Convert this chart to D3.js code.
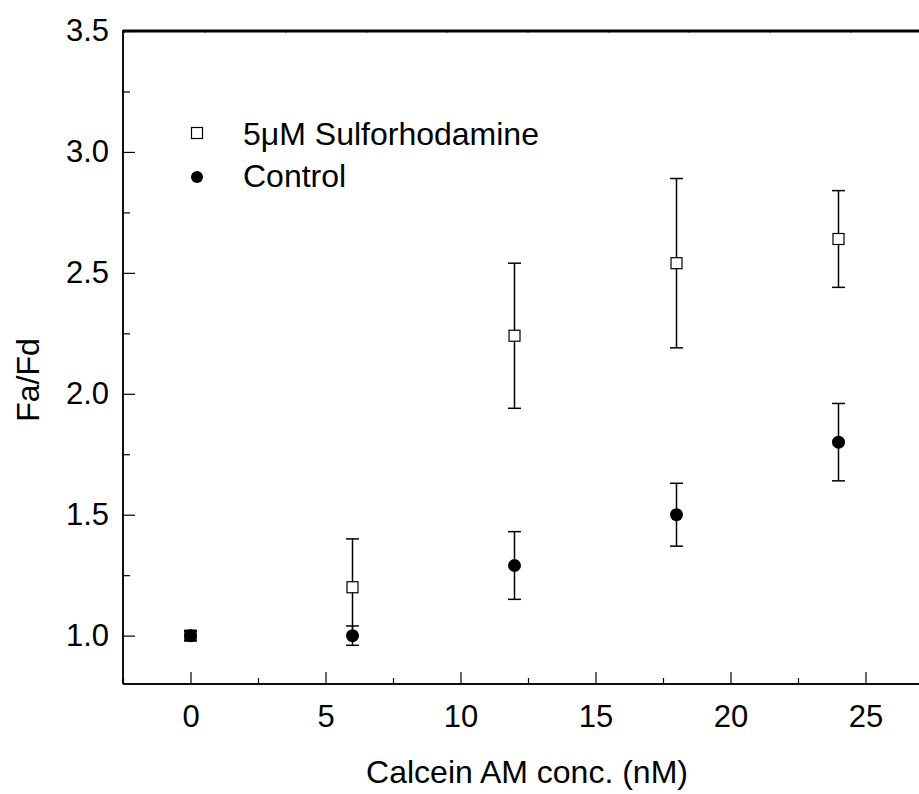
<!DOCTYPE html>
<html>
<head>
<meta charset="utf-8">
<script src="https://cdn.jsdelivr.net/npm/d3@7"></script>
<style>
	body { margin: 0; background: #fff; }
	text { font-family: "Liberation Sans", Arial, sans-serif; fill: #000; }
</style>
</head>
<body>
<script>
// values
var conc = [0, 6, 12, 18, 24];
var sulfoMean = [1.0, 1.2, 2.24, 2.54, 2.64];
var sulfoErr = [0.02, 0.2, 0.3, 0.35, 0.2];
var controlMean = [1.0, 1.0, 1.29, 1.5, 1.8];
var controlErr = [0.02, 0.04, 0.14, 0.13, 0.16];
var xMajor = [0, 5, 10, 15, 20, 25];
var xMinor = [-2.5, 2.5, 7.5, 12.5, 17.5, 22.5];
var yMajor = [1.0, 1.5, 2.0, 2.5, 3.0, 3.5];
var yMinor = [1.25, 1.75, 2.25, 2.75, 3.25];
var legendNames = ['5\u03bcM Sulforhodamine', 'Control'];

var width = 919, height = 794;
var box = {left: 123, right: 933, top: 31, bottom: 684};

var svg = d3.select('body').append('svg')
	.attr('width', width)
	.attr('height', height);

var x = d3.scaleLinear().domain([-2.5, 27.5]).range([box.left, box.right]);
var y = d3.scaleLinear().domain([0.8, 3.5]).range([box.bottom, box.top]);
// the top frame line carries its own small evenly spaced ticks
var xTop = d3.scaleLinear().domain([0, 10]).range([box.left + 1, box.left + 808]);

var sulfo = conc.map(function(c, i){ return {x: c, y: sulfoMean[i], e: sulfoErr[i]}; });
var control = conc.map(function(c, i){ return {x: c, y: controlMean[i], e: controlErr[i]}; });

addAxes = function(){
	// bottom axis, ticks pointing up into the plot
	svg.append('g')
		.attr('class', 'xMinor')
		.attr('transform', 'translate(0,' + box.bottom + ')')
		.call(d3.axisTop(x).tickValues(xMinor).tickSize(6).tickFormat(''));
	var gx = svg.append('g')
		.attr('class', 'xMajor')
		.attr('transform', 'translate(0,' + box.bottom + ')')
		.call(d3.axisTop(x).tickValues(xMajor).tickSize(12).tickFormat(d3.format('d')));
	gx.selectAll('text')
		.attr('y', 43)
		.attr('dy', 0)
		.style('font-size', '31px');
	// left axis, ticks pointing right
	svg.append('g')
		.attr('class', 'yMinor')
		.attr('transform', 'translate(' + box.left + ',0)')
		.call(d3.axisRight(y).tickValues(yMinor).tickSize(7).tickFormat(''));
	var gy = svg.append('g')
		.attr('class', 'yMajor')
		.attr('transform', 'translate(' + box.left + ',0)')
		.call(d3.axisRight(y).tickValues(yMajor).tickSize(12).tickFormat(d3.format('.1f')));
	gy.selectAll('text')
		.attr('x', -14)
		.attr('text-anchor', 'end')
		.style('font-size', '31px');
	// top frame line, thick
	var gt = svg.append('g')
		.attr('class', 'topLine')
		.attr('transform', 'translate(0,' + box.top + ')')
		.call(d3.axisBottom(xTop).ticks(10).tickSize(3).tickFormat(''));
	gt.selectAll('.tick line').attr('stroke', '#555').attr('transform', 'translate(0,-1)');
	gt.select('.domain').remove();
	svg.append('line')
		.attr('x1', box.left)
		.attr('x2', width)
		.attr('y1', box.top)
		.attr('y2', box.top)
		.attr('stroke', '#000')
		.attr('stroke-width', 3);
	svg.selectAll('.xMinor .domain, .xMajor .domain, .yMinor .domain, .yMajor .domain')
		.attr('stroke-width', 1.5);
	svg.selectAll('.xMajor .tick line, .xMinor .tick line, .yMajor .tick line, .yMinor .tick line')
		.attr('stroke-width', 1.2);
	svg.selectAll('.xMajor .domain, .xMinor .domain')
		.attr('d', 'M' + box.left + ',0H' + width);
	svg.selectAll('.yMajor .domain, .yMinor .domain')
		.attr('d', 'M0,' + (box.top - 1) + 'V' + box.bottom);
};

addTitles = function(){
	svg.append('text')
		.attr('class', 'xTitle')
		.attr('x', (box.left + width) / 2 + 6)
		.attr('y', 783)
		.attr('text-anchor', 'middle')
		.style('font-size', '32px')
		.text('Calcein AM conc. (nM)');
	svg.append('text')
		.attr('class', 'yTitle')
		.attr('transform', 'translate(39,380) rotate(-90)')
		.attr('text-anchor', 'middle')
		.style('font-size', '32px')
		.text('Fa/Fd');
};

addErrorBars = function(data, id){
	var g = svg.append('g').attr('id', id);
	g.selectAll('line.stem')
		.data(data)
		.enter()
		.append('line')
		.attr('class', 'stem')
		.attr('x1', function(d){ return x(d.x); })
		.attr('x2', function(d){ return x(d.x); })
		.attr('y1', function(d){ return y(d.y - d.e); })
		.attr('y2', function(d){ return y(d.y + d.e); })
		.attr('stroke', '#000')
		.attr('stroke-width', 1.5);
	g.selectAll('line.capTop')
		.data(data)
		.enter()
		.append('line')
		.attr('class', 'capTop')
		.attr('x1', function(d){ return x(d.x) - 6.5; })
		.attr('x2', function(d){ return x(d.x) + 6.5; })
		.attr('y1', function(d){ return y(d.y + d.e); })
		.attr('y2', function(d){ return y(d.y + d.e); })
		.attr('stroke', '#000')
		.attr('stroke-width', 1.5);
	g.selectAll('line.capBot')
		.data(data)
		.enter()
		.append('line')
		.attr('class', 'capBot')
		.attr('x1', function(d){ return x(d.x) - 6.5; })
		.attr('x2', function(d){ return x(d.x) + 6.5; })
		.attr('y1', function(d){ return y(d.y - d.e); })
		.attr('y2', function(d){ return y(d.y - d.e); })
		.attr('stroke', '#000')
		.attr('stroke-width', 1.5);
	return g;
};

addPoints = function(){
	addErrorBars(sulfo, 'sulfoBars')
		.selectAll('rect')
		.data(sulfo)
		.enter()
		.append('rect')
		.attr('x', function(d){ return x(d.x) - 5.5; })
		.attr('y', function(d){ return y(d.y) - 5.5; })
		.attr('width', 11)
		.attr('height', 11)
		.attr('fill', '#fff')
		.attr('stroke', '#000')
		.attr('stroke-width', 1.2);
	addErrorBars(control, 'controlBars')
		.selectAll('circle')
		.data(control)
		.enter()
		.append('circle')
		.attr('cx', function(d){ return x(d.x); })
		.attr('cy', function(d){ return y(d.y); })
		.attr('r', 6.5)
		.attr('fill', '#000');
};

addLegend = function(){
	var lg = svg.append('g').attr('id', 'legend');
	lg.append('rect')
		.attr('x', 191.5)
		.attr('y', 127.5)
		.attr('width', 11)
		.attr('height', 11)
		.attr('fill', '#fff')
		.attr('stroke', '#000')
		.attr('stroke-width', 1.2);
	lg.append('circle')
		.attr('cx', 197)
		.attr('cy', 177)
		.attr('r', 6)
		.attr('fill', '#000');
	lg.selectAll('text')
		.data(legendNames)
		.enter()
		.append('text')
		.attr('x', 243)
		.attr('y', function(d, i){ return 145 + i * 42; })
		.style('font-size', '32px')
		.text(function(d){ return d; });
};

addAxes();
addTitles();
addPoints();
addLegend();
</script>
</body>
</html>
